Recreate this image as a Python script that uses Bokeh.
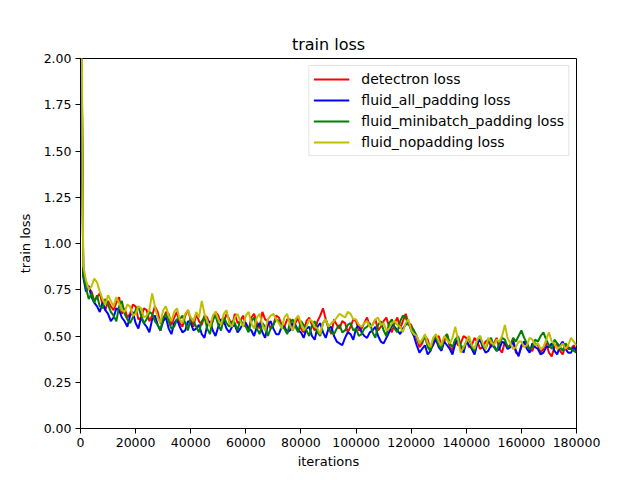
from bokeh.plotting import figure
from bokeh.models import Range1d, FixedTicker, PrintfTickFormatter, Legend, LegendItem
from bokeh.embed import file_html
from bokeh.resources import INLINE

iterations = list(range(0, 180001, 1000))

detectron = [
    2.9, 0.84, 0.79, 0.76, 0.74, 0.69, 0.71, 0.73, 0.67, 0.64,
    0.69, 0.66, 0.64, 0.68, 0.71, 0.62, 0.65, 0.60, 0.62, 0.67,
    0.66, 0.59, 0.60, 0.65, 0.64, 0.58, 0.61, 0.66, 0.63, 0.57,
    0.58, 0.63, 0.62, 0.56, 0.60, 0.63, 0.57, 0.55, 0.61, 0.64,
    0.59, 0.55, 0.62, 0.58, 0.56, 0.61, 0.60, 0.55, 0.58, 0.63,
    0.61, 0.56, 0.57, 0.62, 0.59, 0.55, 0.62, 0.57, 0.58, 0.61,
    0.56, 0.53, 0.60, 0.62, 0.57, 0.54, 0.63, 0.59, 0.58, 0.54,
    0.56, 0.61, 0.60, 0.56, 0.55, 0.59, 0.59, 0.53, 0.57, 0.60,
    0.54, 0.52, 0.58, 0.60, 0.56, 0.53, 0.58, 0.61, 0.65, 0.59,
    0.55, 0.51, 0.59, 0.56, 0.54, 0.58, 0.57, 0.52, 0.55, 0.59,
    0.58, 0.53, 0.54, 0.57, 0.60, 0.55, 0.56, 0.59, 0.53, 0.55,
    0.58, 0.60, 0.55, 0.52, 0.57, 0.60, 0.54, 0.58, 0.62, 0.57,
    0.56, 0.52, 0.49, 0.44, 0.46, 0.50, 0.48, 0.43, 0.45, 0.49,
    0.50, 0.45, 0.47, 0.51, 0.44, 0.42, 0.48, 0.45, 0.46, 0.50,
    0.49, 0.44, 0.45, 0.49, 0.47, 0.43, 0.44, 0.47, 0.48, 0.44,
    0.46, 0.49, 0.43, 0.41, 0.47, 0.44, 0.45, 0.48, 0.41, 0.40,
    0.44, 0.47, 0.46, 0.42, 0.42, 0.46, 0.45, 0.41, 0.43, 0.46,
    0.41, 0.39, 0.44, 0.46, 0.42, 0.40, 0.45, 0.43, 0.43, 0.45,
    0.42,
]

all_padding = [
    2.8, 0.82, 0.74, 0.77, 0.71, 0.68, 0.66, 0.63, 0.68, 0.64,
    0.62, 0.58, 0.60, 0.65, 0.64, 0.60, 0.58, 0.55, 0.61, 0.63,
    0.57, 0.54, 0.60, 0.57, 0.55, 0.52, 0.59, 0.61, 0.56, 0.53,
    0.58, 0.60, 0.54, 0.51, 0.57, 0.59, 0.55, 0.52, 0.53, 0.58,
    0.57, 0.53, 0.54, 0.56, 0.51, 0.49, 0.56, 0.58, 0.53, 0.50,
    0.55, 0.59, 0.58, 0.54, 0.52, 0.55, 0.56, 0.52, 0.54, 0.57,
    0.57, 0.54, 0.53, 0.50, 0.55, 0.57, 0.52, 0.49, 0.56, 0.58,
    0.54, 0.51, 0.51, 0.55, 0.55, 0.52, 0.53, 0.57, 0.56, 0.53,
    0.52, 0.49, 0.54, 0.55, 0.50, 0.48, 0.55, 0.57, 0.52, 0.49,
    0.54, 0.55, 0.50, 0.47, 0.46, 0.45, 0.49, 0.52, 0.51, 0.48,
    0.54, 0.56, 0.52, 0.50, 0.49, 0.52, 0.53, 0.55, 0.50, 0.47,
    0.46, 0.49, 0.52, 0.56, 0.55, 0.53, 0.51, 0.54, 0.56, 0.58,
    0.53, 0.50, 0.45, 0.41, 0.43, 0.45, 0.40, 0.42, 0.46, 0.48,
    0.44, 0.42, 0.47, 0.45, 0.43, 0.40, 0.46, 0.48, 0.44, 0.41,
    0.47, 0.45, 0.43, 0.40, 0.46, 0.48, 0.44, 0.41, 0.42, 0.45,
    0.45, 0.42, 0.43, 0.47, 0.46, 0.43, 0.44, 0.47, 0.42, 0.39,
    0.45, 0.47, 0.43, 0.41, 0.46, 0.44, 0.43, 0.40, 0.41, 0.44,
    0.44, 0.46, 0.42, 0.40, 0.45, 0.47, 0.43, 0.41, 0.41, 0.44,
    0.42,
]

minibatch_padding = [
    2.85, 0.83, 0.76, 0.70, 0.73, 0.68, 0.72, 0.66, 0.65, 0.70,
    0.67, 0.63, 0.61, 0.58, 0.66, 0.69, 0.62, 0.59, 0.57, 0.60,
    0.64, 0.66, 0.61, 0.57, 0.59, 0.63, 0.62, 0.58, 0.56, 0.53,
    0.60, 0.62, 0.58, 0.54, 0.55, 0.59, 0.59, 0.61, 0.57, 0.53,
    0.60, 0.58, 0.55, 0.52, 0.58, 0.60, 0.54, 0.51, 0.59, 0.61,
    0.56, 0.53, 0.60, 0.57, 0.55, 0.58, 0.57, 0.53, 0.59, 0.56,
    0.55, 0.52, 0.58, 0.60, 0.54, 0.51, 0.57, 0.55, 0.50, 0.54,
    0.56, 0.59, 0.58, 0.55, 0.54, 0.51, 0.57, 0.59, 0.55, 0.52,
    0.58, 0.56, 0.53, 0.50, 0.56, 0.58, 0.52, 0.50, 0.57, 0.59,
    0.54, 0.52, 0.51, 0.54, 0.56, 0.52, 0.53, 0.56, 0.57, 0.53,
    0.54, 0.50, 0.51, 0.54, 0.55, 0.57, 0.52, 0.49, 0.56, 0.58,
    0.53, 0.50, 0.57, 0.59, 0.54, 0.52, 0.58, 0.61, 0.60, 0.56,
    0.55, 0.53, 0.50, 0.46, 0.47, 0.50, 0.44, 0.42, 0.48, 0.50,
    0.45, 0.43, 0.49, 0.51, 0.46, 0.44, 0.48, 0.50, 0.45, 0.43,
    0.47, 0.49, 0.44, 0.42, 0.48, 0.50, 0.45, 0.43, 0.47, 0.49,
    0.44, 0.42, 0.46, 0.49, 0.48, 0.44, 0.45, 0.49, 0.47, 0.50,
    0.53, 0.49, 0.46, 0.43, 0.44, 0.48, 0.47, 0.50, 0.52, 0.48,
    0.45, 0.43, 0.48, 0.46, 0.44, 0.42, 0.46, 0.44, 0.43, 0.42,
    0.41,
]

nopadding = [
    3.2, 0.88, 0.80, 0.75, 0.77, 0.81, 0.79, 0.74, 0.70, 0.67,
    0.72, 0.69, 0.66, 0.71, 0.68, 0.64, 0.63, 0.67, 0.66, 0.61,
    0.62, 0.66, 0.65, 0.60, 0.61, 0.64, 0.73, 0.66, 0.60, 0.57,
    0.64, 0.66, 0.61, 0.58, 0.63, 0.65, 0.59, 0.57, 0.62, 0.64,
    0.60, 0.58, 0.63, 0.60, 0.69, 0.62, 0.58, 0.55, 0.61, 0.63,
    0.59, 0.56, 0.62, 0.64, 0.57, 0.55, 0.60, 0.62, 0.58, 0.55,
    0.61, 0.63, 0.57, 0.54, 0.60, 0.62, 0.56, 0.53, 0.59, 0.61,
    0.62, 0.59, 0.57, 0.54, 0.60, 0.62, 0.56, 0.53, 0.59, 0.61,
    0.57, 0.53, 0.55, 0.59, 0.58, 0.55, 0.54, 0.51, 0.57, 0.59,
    0.55, 0.57, 0.58, 0.60, 0.62, 0.61, 0.60, 0.63, 0.62, 0.59,
    0.59, 0.56, 0.55, 0.57, 0.58, 0.55, 0.56, 0.59, 0.60, 0.56,
    0.57, 0.53, 0.54, 0.57, 0.58, 0.56, 0.55, 0.52, 0.57, 0.59,
    0.53, 0.51, 0.50, 0.46, 0.48, 0.51, 0.46, 0.44, 0.49, 0.51,
    0.47, 0.45, 0.50, 0.48, 0.46, 0.49, 0.55, 0.48, 0.41, 0.44,
    0.47, 0.50, 0.45, 0.43, 0.48, 0.50, 0.46, 0.43, 0.49, 0.47,
    0.45, 0.48, 0.47, 0.50, 0.56, 0.49, 0.46, 0.43, 0.44, 0.47,
    0.47, 0.44, 0.45, 0.49, 0.48, 0.45, 0.46, 0.43, 0.44, 0.48,
    0.52, 0.47, 0.46, 0.43, 0.44, 0.46, 0.43, 0.45, 0.49, 0.47,
    0.45,
]

series_names = ["detectron loss", "fluid_all_padding loss",
                "fluid_minibatch_padding loss", "fluid_nopadding loss"]
series_values = [detectron, all_padding, minibatch_padding, nopadding]
series_colors = ["#ff0000", "#0000ff", "#008000", "#bfbf00"]

x_ticks = [0, 20000, 40000, 60000, 80000, 100000, 120000, 140000, 160000, 180000]
y_ticks = [0.0, 0.25, 0.5, 0.75, 1.0, 1.25, 1.5, 1.75, 2.0]

FONT = "DejaVu Sans"

p = figure(width=640, height=480, output_backend="svg", toolbar_location=None,
           x_range=Range1d(0, 180000), y_range=Range1d(0, 2.0),
           title="train loss",
           min_border_left=80, min_border_right=64, min_border_top=58, min_border_bottom=52)

p.title.align = "center"
p.title.text_font = FONT
p.title.text_font_size = "16px"
p.title.text_font_style = "normal"
p.title.text_color = "black"
p.title.standoff = 9

p.grid.visible = False
p.outline_line_color = "black"
p.outline_line_width = 1
p.outline_line_alpha = 1.0
p.background_fill_color = "white"
p.border_fill_color = "white"

items = []
for name, vals, col in zip(series_names, series_values, series_colors):
    r = p.line(iterations, vals, line_color=col, line_width=2)
    items.append(LegendItem(label=name, renderers=[r]))

for ax in (p.xaxis[0], p.yaxis[0]):
    ax.axis_line_color = "black"
    ax.major_tick_line_color = "black"
    ax.minor_tick_line_color = None
    ax.major_tick_out = 5
    ax.major_tick_in = 0
    ax.major_label_text_font = FONT
    ax.major_label_text_font_size = "12.5px"
    ax.major_label_text_color = "black"
    ax.axis_label_text_font = FONT
    ax.axis_label_text_font_size = "13px"
    ax.axis_label_text_font_style = "normal"
    ax.axis_label_text_color = "black"

p.xaxis.ticker = FixedTicker(ticks=x_ticks)
p.yaxis.ticker = FixedTicker(ticks=y_ticks)
p.yaxis.formatter = PrintfTickFormatter(format="%.2f")
p.xaxis.major_label_overrides = {t: str(t) for t in x_ticks}
p.xaxis.axis_label = "iterations"
p.yaxis.axis_label = "train loss"
p.xaxis.major_label_standoff = 4
p.yaxis.major_label_standoff = 4
p.xaxis.axis_label_standoff = 4
p.yaxis.axis_label_standoff = 8

legend = Legend(items=items, location="top_right")
legend.label_text_font = FONT
legend.label_text_font_size = "14px"
legend.label_text_color = "black"
legend.label_height = 18
legend.glyph_height = 18
legend.glyph_width = 36
legend.spacing = 3
legend.padding = 4
legend.margin = 7
legend.label_standoff = 12
legend.border_line_color = "#cccccc"
legend.border_line_width = 1
legend.background_fill_color = "white"
legend.background_fill_alpha = 0.8
p.add_layout(legend)

open("out.html", "w").write(file_html(p, INLINE))
